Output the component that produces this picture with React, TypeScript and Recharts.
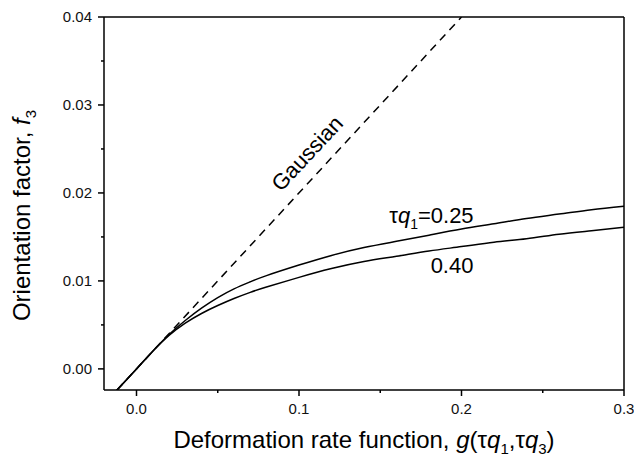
import { LineChart, Line, XAxis, YAxis, ReferenceLine, ReferenceDot } from "recharts";

const FONT = "'Liberation Sans', Arial, sans-serif";

const xTicks = [0, 0.05, 0.1, 0.15, 0.2, 0.25, 0.3];
const yTicks = [0, 0.005, 0.01, 0.015, 0.02, 0.025, 0.03, 0.035, 0.04];

// Gaussian limit (dashed straight line)
const gaussX = [-0.012, 0.2];
const gaussY = [-0.0024, 0.04];

const curveX = [-0.0125, 0, 0.01, 0.02, 0.03, 0.04, 0.05, 0.06, 0.07, 0.08, 0.1, 0.12, 0.14, 0.16, 0.18, 0.2, 0.22, 0.24, 0.26, 0.28, 0.3];
const tq025 = [-0.0025, 0, 0.002, 0.0039, 0.0055, 0.0069, 0.0081, 0.0091, 0.0099, 0.0106, 0.0118, 0.0129, 0.0138, 0.0145, 0.0152, 0.0159, 0.0165, 0.0171, 0.0176, 0.0181, 0.0185];
const tq040 = [-0.0025, 0, 0.002, 0.0038, 0.0052, 0.0063, 0.0072, 0.008, 0.0087, 0.0093, 0.0104, 0.0114, 0.0122, 0.0128, 0.0134, 0.0139, 0.0144, 0.0148, 0.0153, 0.0157, 0.0161];

const gaussData = gaussX.map((x, i) => ({ x, y: gaussY[i] }));
const data025 = curveX.map((x, i) => ({ x, y: tq025[i] }));
const data040 = curveX.map((x, i) => ({ x, y: tq040[i] }));

const isMajor = (v: number, step: number) => Math.abs(v / step - Math.round(v / step)) < 1e-6;

function XTick(props: any) {
  const { x, y, payload } = props;
  const major = isMajor(payload.value, 0.1);
  return (
    <g>
      <line x1={x} x2={x} y1={y} y2={y + (major ? 6 : 3)} stroke="#000" strokeWidth={1.5} />
      {major && (
        <text x={x} y={y + 24} textAnchor="middle" fontSize={15} fontFamily={FONT} fill="#111">
          {payload.value.toFixed(1)}
        </text>
      )}
    </g>
  );
}

function YTick(props: any) {
  const { x, y, payload } = props;
  const major = isMajor(payload.value, 0.01);
  return (
    <g>
      <line x1={x} x2={x - (major ? 6 : 3)} y1={y} y2={y} stroke="#000" strokeWidth={1.5} />
      {major && (
        <text x={x - 12} y={y + 5} textAnchor="end" fontSize={15} fontFamily={FONT} fill="#111">
          {payload.value.toFixed(2)}
        </text>
      )}
    </g>
  );
}

function XTitle(props: any) {
  const vb = props.viewBox;
  return (
    <text x={vb.x + vb.width / 2} y={vb.y + 58} textAnchor="middle" fontSize={24} fontFamily={FONT} fill="#000">
      Deformation rate function, <tspan fontStyle="italic">g</tspan>(τ<tspan fontStyle="italic">q</tspan>
      <tspan fontSize={15} dy={6}>1</tspan>
      <tspan dy={-6}>,τ</tspan>
      <tspan fontStyle="italic">q</tspan>
      <tspan fontSize={15} dy={6}>3</tspan>
      <tspan dy={-6}>)</tspan>
    </text>
  );
}

function YTitle(props: any) {
  const vb = props.viewBox;
  const cx = vb.x + 30;
  const cy = vb.y + vb.height / 2 + 12;
  return (
    <text x={cx} y={cy} transform={`rotate(-90 ${cx} ${cy})`} textAnchor="middle" fontSize={24} fontFamily={FONT} fill="#000">
      Orientation factor, <tspan fontStyle="italic">f</tspan>
      <tspan fontSize={15} dy={6}>3</tspan>
    </text>
  );
}

export default function App() {
  return (
    <div style={{ position: "absolute", left: 0, top: 0, background: "#fff" }}>
      <LineChart width={634} height={458} margin={{ top: 17, right: 10, left: 0, bottom: 0 }}>
        <XAxis
          dataKey="x"
          type="number"
          domain={[-0.02, 0.3]}
          allowDataOverflow
          ticks={xTicks}
          interval={0}
          tickSize={0}
          tickMargin={0}
          tickLine={false}
          tick={<XTick />}
          axisLine={{ stroke: "#000", strokeWidth: 1.5 }}
          height={68}
          label={<XTitle />}
        />
        <YAxis
          dataKey="y"
          type="number"
          domain={[-0.0024, 0.04]}
          allowDataOverflow
          ticks={yTicks}
          interval={0}
          tickSize={0}
          tickMargin={0}
          tickLine={false}
          tick={<YTick />}
          axisLine={{ stroke: "#000", strokeWidth: 1.5 }}
          width={104}
          label={<YTitle />}
        />
        <ReferenceLine y={0.04} stroke="#000" strokeWidth={1.5} />
        <ReferenceLine x={0.3} stroke="#000" strokeWidth={1.5} />
        <Line data={gaussData} dataKey="y" stroke="#000" strokeWidth={1.5} strokeDasharray="8 6" dot={false} isAnimationActive={false} />
        <Line data={data025} dataKey="y" stroke="#000" strokeWidth={1.5} dot={false} isAnimationActive={false} type="natural" />
        <Line data={data040} dataKey="y" stroke="#000" strokeWidth={1.5} dot={false} isAnimationActive={false} type="natural" />
        <ReferenceDot
          x={0.105}
          y={0.0245}
          r={0}
          shape={(p: any) => (
            <text x={p.cx} y={p.cy} transform={`rotate(-47 ${p.cx} ${p.cy})`} textAnchor="middle" dominantBaseline="central" fontSize={22} fontFamily={FONT} fill="#000">
              Gaussian
            </text>
          )}
        />
        <ReferenceDot
          x={0.1555}
          y={0.0175}
          r={0}
          shape={(p: any) => (
            <text x={p.cx} y={p.cy + 8} fontSize={22} fontFamily={FONT} fill="#000">
              τ<tspan fontStyle="italic">q</tspan>
              <tspan fontSize={14} dy={6}>1</tspan>
              <tspan dy={-6}>=0.25</tspan>
            </text>
          )}
        />
        <ReferenceDot
          x={0.181}
          y={0.0118}
          r={0}
          shape={(p: any) => (
            <text x={p.cx} y={p.cy + 8} fontSize={22} fontFamily={FONT} fill="#000">
              0.40
            </text>
          )}
        />
      </LineChart>
    </div>
  );
}
